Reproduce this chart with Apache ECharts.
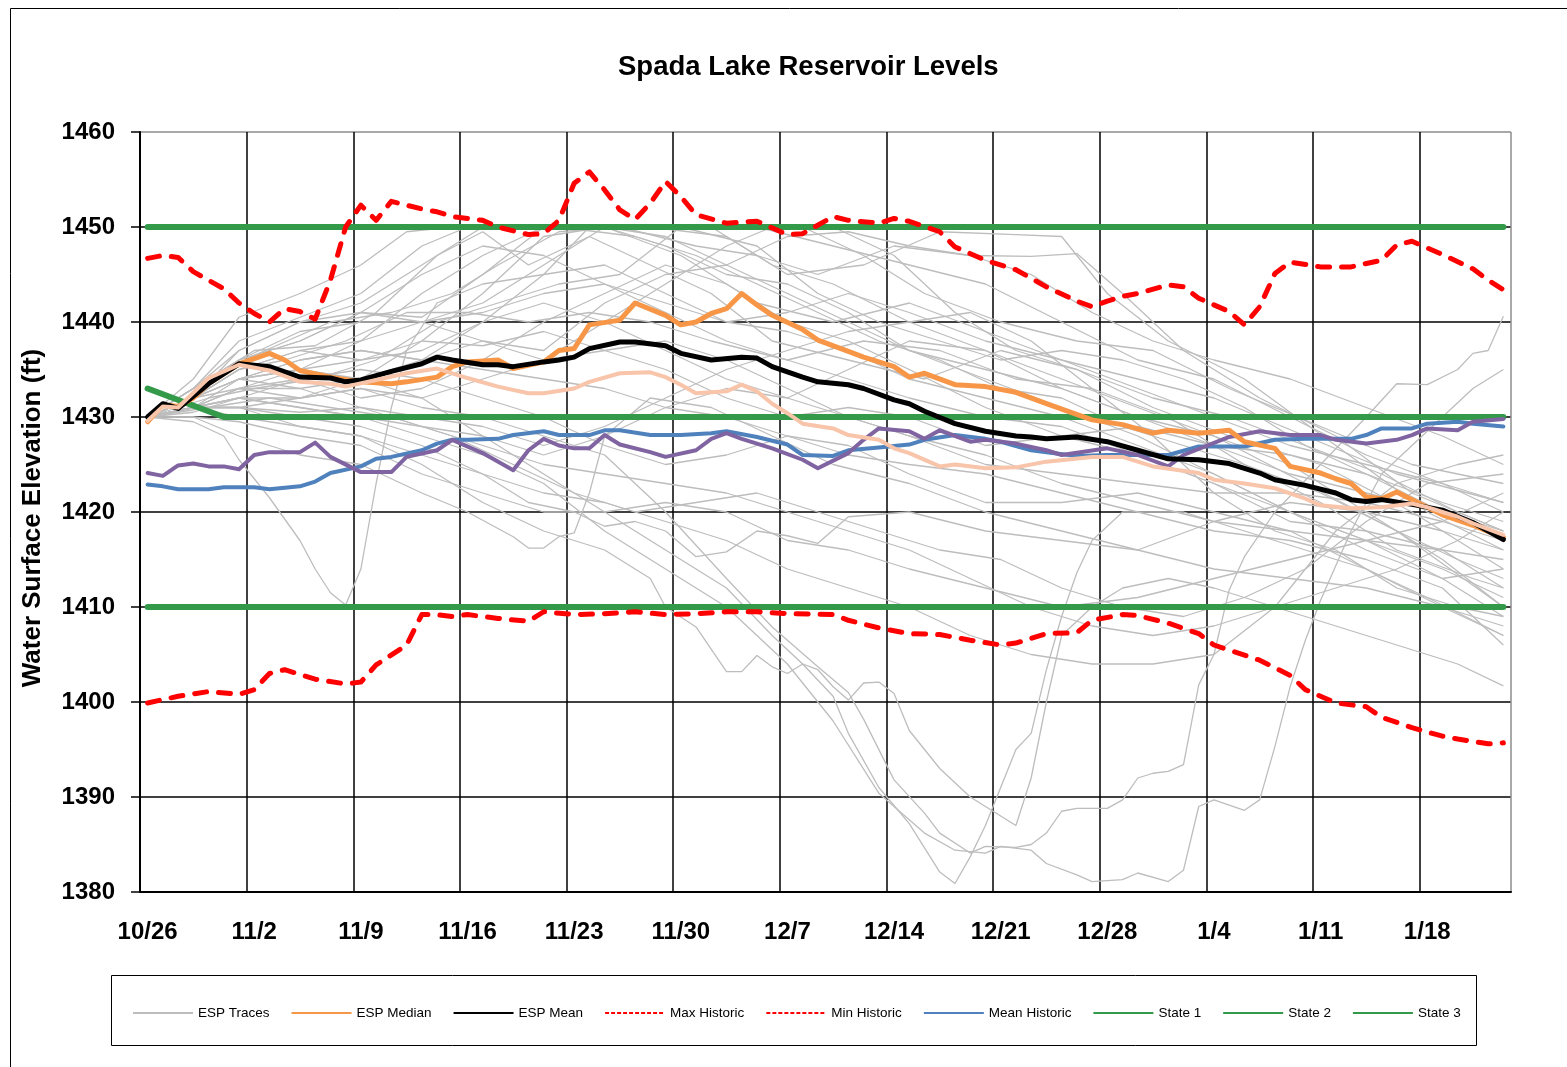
<!DOCTYPE html>
<html>
<head>
<meta charset="utf-8">
<title>Spada Lake Reservoir Levels</title>
<script src="https://cdn.jsdelivr.net/npm/echarts@6/dist/echarts.min.js"></script>
<style>
  html, body { margin: 0; padding: 0; background: #fff; }
  #chart { width: 1567px; height: 1067px; }
</style>
</head>
<body>
<div id="chart"></div>
<script>
// categories: one per day, 10/26 .. 1/23
const monthLen = { 10: 31, 11: 30, 12: 31, 1: 31 }
const dates = []
let mm = 10, dd = 26
for (let i = 0; i < 90; i++) {
  dates.push(mm + "/" + dd)
  dd++
  if (dd > monthLen[mm]) { dd = 1; mm = mm === 12 ? 1 : mm + 1 }
}

const yTicks = { min: 1380, max: 1460, step: 10 }

// [day index, elevation ft]
const espMedian = [[0,1429.5],[1,1431.3],[2,1431.1],[3,1432],[4,1433.5],[6,1435.6],[8,1436.7],[9,1436],[10,1434.9],[12,1434.2],[14,1433.7],[16,1433.5],[17,1433.7],[19,1434.2],[20,1435.3],[21,1435.8],[23,1436],[24,1435.1],[26,1435.8],[27,1437],[28,1437.2],[29,1439.7],[31,1440.2],[32,1442],[34,1440.7],[35,1439.7],[36,1440],[37,1440.9],[38,1441.4],[39,1443],[40,1441.8],[41,1440.7],[43,1439.2],[44,1438.1],[46,1436.9],[47,1436.3],[49,1435.3],[50,1434.2],[51,1434.6],[53,1433.4],[55,1433.2],[57,1432.6],[59,1431.4],[62,1429.7],[64,1429.2],[66,1428.3],[67,1428.6],[69,1428.3],[71,1428.6],[72,1427.4],[74,1426.7],[75,1424.8],[77,1424.1],[78,1423.5],[79,1423],[80,1421.6],[81,1421.4],[82,1422.1],[83,1421.3],[85,1419.7],[87,1418.6],[89,1417.3]]

const espMean = [[0,1430],[1,1431.4],[2,1430.9],[4,1433.5],[6,1435.6],[8,1435.3],[10,1434.2],[12,1434.1],[13,1433.7],[14,1433.9],[16,1434.8],[18,1435.6],[19,1436.3],[20,1436],[22,1435.5],[23,1435.5],[24,1435.3],[26,1435.8],[27,1436],[28,1436.3],[29,1437.2],[31,1437.9],[32,1437.9],[34,1437.5],[35,1436.7],[37,1436],[39,1436.3],[40,1436.2],[41,1435.3],[43,1434.2],[44,1433.7],[46,1433.4],[47,1433],[49,1431.8],[50,1431.4],[51,1430.6],[53,1429.3],[55,1428.5],[57,1428],[58,1427.9],[59,1427.7],[61,1427.9],[63,1427.4],[65,1426.5],[67,1425.6],[69,1425.5],[71,1425.1],[73,1424.1],[74,1423.4],[76,1422.8],[78,1422],[79,1421.3],[80,1421.1],[81,1421.3],[83,1420.8],[85,1420.2],[87,1418.9],[89,1417.1]]

const maxHistoric = [[0,1446.7],[1,1447],[2,1446.8],[3,1445.3],[5,1443.5],[6,1442],[7,1440.9],[8,1440],[9,1441.4],[10,1441.1],[11,1440.3],[12,1444.4],[13,1450],[14,1452.3],[15,1450.7],[16,1452.7],[18,1451.9],[19,1451.6],[20,1451.1],[22,1450.7],[23,1450],[25,1449.2],[26,1449.3],[27,1450.7],[28,1454.6],[29,1455.8],[30,1453.9],[31,1451.8],[32,1450.8],[33,1452.5],[34,1454.8],[35,1453.2],[36,1451.3],[38,1450.4],[40,1450.6],[42,1449.2],[43,1449.3],[45,1451.1],[46,1450.7],[48,1450.4],[49,1450.9],[50,1450.6],[52,1449.5],[53,1447.9],[55,1446.5],[57,1445.5],[58,1444.6],[59,1443.7],[61,1442.2],[62,1441.6],[63,1442.2],[64,1442.7],[65,1443],[67,1443.9],[68,1443.7],[69,1442.5],[71,1441.1],[72,1439.7],[73,1441.6],[74,1445.1],[75,1446.3],[77,1445.8],[79,1445.8],[81,1446.5],[82,1448.1],[83,1448.5],[85,1447.1],[87,1445.6],[88,1444.4],[89,1443.4]]

const minHistoric = [[0,1399.9],[2,1400.6],[4,1401.1],[6,1400.8],[7,1401.3],[8,1403],[9,1403.4],[11,1402.4],[13,1401.9],[14,1402.1],[15,1403.9],[17,1406],[18,1409.2],[19,1409.2],[20,1409],[21,1409.2],[23,1408.8],[25,1408.5],[26,1409.5],[28,1409.2],[30,1409.3],[32,1409.5],[34,1409.2],[36,1409.3],[38,1409.5],[40,1409.5],[42,1409.3],[45,1409.2],[46,1408.6],[48,1407.8],[50,1407.2],[52,1407.1],[54,1406.5],[56,1406],[57,1406.2],[59,1407.2],[61,1407.3],[62,1408.6],[64,1409.2],[65,1409.1],[67,1408.3],[69,1407.2],[70,1406],[73,1404.4],[75,1402.8],[76,1401.3],[78,1399.9],[80,1399.5],[81,1398.4],[83,1397.3],[85,1396.4],[86,1396.1],[88,1395.6],[89,1395.7]]

const meanHistoric = [[0,1422.9],[1,1422.7],[2,1422.4],[4,1422.4],[5,1422.6],[7,1422.6],[8,1422.4],[10,1422.7],[11,1423.2],[12,1424.1],[14,1424.8],[15,1425.6],[16,1425.8],[18,1426.5],[19,1427.2],[20,1427.6],[21,1427.6],[23,1427.7],[24,1428.1],[26,1428.5],[27,1428.1],[29,1428.1],[30,1428.6],[31,1428.6],[33,1428.1],[35,1428.1],[37,1428.3],[38,1428.5],[40,1427.9],[42,1427.1],[43,1426],[45,1425.9],[46,1426.5],[48,1426.8],[50,1427.1],[51,1427.6],[53,1428.1],[55,1427.7],[56,1427.4],[58,1426.5],[59,1426.3],[61,1425.9],[63,1426],[65,1426],[67,1426],[69,1426.9],[72,1426.9],[74,1427.6],[76,1427.7],[79,1427.7],[80,1428.1],[81,1428.8],[83,1428.8],[84,1429.3],[86,1429.5],[87,1429.3],[89,1429]]

// two unlabeled lines (no legend entry in the original)
const purpleLine = [[0,1424.1],[1,1423.8],[2,1424.9],[3,1425.1],[4,1424.8],[5,1424.8],[6,1424.5],[7,1426],[8,1426.3],[10,1426.3],[11,1427.3],[12,1425.8],[14,1424.2],[16,1424.2],[17,1425.8],[19,1426.5],[20,1427.6],[22,1426.2],[24,1424.4],[25,1426.5],[26,1427.7],[27,1427],[28,1426.7],[29,1426.7],[30,1428.1],[31,1427.1],[33,1426.3],[34,1425.8],[36,1426.5],[37,1427.7],[38,1428.3],[39,1427.7],[41,1426.7],[43,1425.5],[44,1424.6],[46,1426.2],[47,1427.6],[48,1428.8],[50,1428.5],[51,1427.7],[52,1428.6],[54,1427.4],[55,1427.6],[57,1427.2],[59,1426.5],[60,1426],[63,1426.7],[65,1426],[67,1424.8],[68,1426],[71,1427.9],[73,1428.5],[75,1428.1],[77,1428.1],[78,1427.6],[80,1427.2],[82,1427.6],[83,1428.1],[84,1428.8],[86,1428.6],[87,1429.5],[89,1429.8]]

const peachLine = [[0,1429.6],[1,1431.1],[2,1431],[4,1434.1],[6,1435.5],[8,1434.9],[10,1433.7],[12,1433.5],[13,1433.2],[15,1433.9],[17,1434.6],[19,1435.1],[21,1434.1],[23,1433.2],[25,1432.5],[26,1432.5],[28,1433],[29,1433.7],[31,1434.6],[33,1434.7],[34,1434.2],[35,1433.4],[36,1432.5],[38,1432.7],[39,1433.4],[40,1432.7],[41,1431.4],[42,1430.4],[43,1429.3],[45,1428.8],[46,1428.1],[48,1427.6],[49,1426.7],[50,1426.2],[52,1424.8],[53,1425],[55,1424.6],[57,1424.7],[59,1425.3],[62,1425.8],[64,1425.8],[66,1424.8],[69,1424.1],[70,1423.4],[72,1423],[74,1422.5],[76,1421.4],[77,1420.7],[79,1420.4],[81,1420.5],[83,1420.9],[84,1420.5],[86,1419.5],[87,1418.8],[89,1417.6]]

const state1 = [[0,1433],[5,1430],[89,1430]]
const state2 = [[0,1450],[89,1450]]
const state3 = [[0,1410],[89,1410]]

// ESP traces
const espTraces = [
  [[0,1430],[3,1434],[6,1440.5],[10,1443],[14,1446],[17,1449.5],[20,1450],[27,1450],[34,1450],[40,1450],[45,1448],[50,1446],[55,1444],[60,1440],[65,1436],[70,1434],[75,1430],[80,1426],[85,1423],[89,1420]],
  [[0,1430],[3,1433],[6,1438],[10,1440.5],[14,1443],[18,1448],[21,1450],[27,1450],[33,1450],[38,1449],[42,1445],[47,1446],[52,1449.5],[57,1449.2],[60,1449],[63,1443],[67,1438],[72,1434],[78,1427],[84,1420],[89,1416]],
  [[0,1430],[4,1434],[7,1436.5],[12,1440],[16,1441],[20,1443],[23,1446],[27,1449.5],[31,1450],[36,1448],[40,1447],[44,1445],[49,1448],[54,1447],[58,1446.9],[61,1447.2],[64,1443],[68,1437],[73,1432],[78,1428],[83,1422],[89,1418]],
  [[0,1430],[3,1432],[6,1436],[10,1438],[14,1441],[18,1440.5],[22,1445],[26,1450],[30,1450],[35,1447],[40,1442],[45,1440],[50,1442],[55,1439],[60,1436],[65,1434],[70,1432],[76,1428],[82,1424],[89,1421]],
  [[0,1430],[3,1433],[7,1437],[11,1437.5],[15,1441],[19,1447],[22,1449.5],[25,1446],[29,1449],[33,1446],[37,1443],[41,1438],[46,1436],[51,1434],[56,1437],[61,1435],[66,1431],[71,1428],[77,1425],[83,1420],[89,1414]],
  [[0,1430],[3,1432],[6,1434],[10,1436],[14,1437],[18,1436],[22,1440],[26,1445],[29,1450],[33,1450],[37,1450],[41,1446],[45,1444],[50,1440],[55,1437],[60,1434],[65,1431],[70,1428],[76,1423],[82,1418],[89,1410]],
  [[0,1430],[4,1432],[7,1433],[11,1434],[15,1436],[19,1440],[23,1442],[27,1444],[31,1445],[35,1450],[39,1450],[43,1450],[47,1447],[51,1443],[56,1440],[61,1438],[66,1437],[71,1433],[77,1429],[83,1425],[89,1423]],
  [[0,1430],[3,1431],[6,1433],[10,1433],[14,1434],[18,1436],[22,1438],[26,1437],[30,1442],[34,1445],[38,1446],[42,1449],[46,1449.5],[50,1448],[54,1447],[58,1445],[62,1441],[66,1438],[70,1436],[75,1434],[80,1431],[85,1428],[89,1425]],
  [[0,1430],[3,1432],[6,1435],[9,1436],[13,1438],[17,1441],[21,1441],[25,1440],[29,1441],[33,1440],[37,1438],[42,1436],[47,1438],[52,1437],[57,1434],[62,1433],[67,1430],[72,1425],[77,1421],[82,1416],[87,1413],[89,1412]],
  [[0,1430],[3,1431],[6,1433],[10,1435],[14,1436],[18,1438],[22,1437.5],[26,1439],[30,1437],[34,1435],[38,1432],[42,1430],[46,1431],[50,1430],[55,1427],[60,1428],[65,1429],[70,1427],[75,1426],[80,1424],[85,1421],[89,1419]],
  [[0,1430],[3,1430.5],[6,1432],[10,1432],[14,1433],[18,1432],[22,1434],[26,1436],[30,1440],[34,1444],[38,1448],[41,1450],[45,1450],[49,1447],[53,1441],[57,1437],[61,1435],[66,1432],[71,1430],[76,1427],[81,1424],[86,1420],[89,1418]],
  [[0,1430],[3,1431],[6,1431],[10,1430.5],[14,1431],[18,1429],[22,1428],[26,1426],[30,1428],[34,1431],[38,1433],[42,1432],[46,1430],[50,1428],[55,1426],[60,1423],[65,1421],[70,1419],[75,1418],[80,1417],[85,1416],[89,1415]],
  [[0,1430],[3,1430],[6,1429.5],[10,1428],[14,1427],[18,1424],[22,1422],[26,1420],[30,1420],[34,1421],[38,1420],[42,1417],[46,1416],[50,1414],[55,1412],[60,1410],[65,1411],[70,1413],[75,1415],[80,1417],[85,1419],[89,1422]],
  [[0,1430],[3,1429.5],[5,1428],[6,1425.5],[8,1421.5],[10,1417],[11,1414],[12,1411.5],[13,1410.2],[14,1414],[15,1423],[16,1431],[17,1437],[19,1442],[22,1444],[26,1445],[30,1446],[34,1443],[38,1440],[42,1439],[46,1437],[50,1434],[55,1432],[60,1430],[65,1427],[70,1424],[75,1420],[80,1417],[85,1413],[89,1409]],
  [[0,1430],[3,1433],[6,1437],[10,1440],[14,1442],[18,1446],[22,1450],[27,1450],[32,1449],[36,1447],[40,1444],[44,1441],[48,1438],[52,1436],[56,1433],[60,1432],[64,1429],[68,1427],[72,1425],[77,1422],[82,1418],[86,1415],[89,1413]],
  [[0,1430],[3,1432],[6,1434],[10,1435],[14,1434],[18,1432],[22,1428],[26,1424],[30,1420],[34,1416],[38,1412],[41,1407],[43,1404],[45,1400.6],[46,1396.7],[48,1391],[50,1387.2],[52,1382.1],[53,1380.9],[54,1383.7],[55,1387],[57,1395],[58,1396.7],[59,1403.4],[60,1409],[61,1413.6],[62,1417],[64,1420],[68,1420],[72,1418],[76,1416],[80,1414],[84,1411],[89,1407]],
  [[0,1430],[3,1431],[6,1432],[10,1431],[14,1430],[18,1428],[22,1426],[26,1423],[30,1418],[34,1414],[38,1410],[42,1404],[45,1398],[48,1390.4],[51,1386.2],[53,1384.4],[55,1384.1],[56,1384.8],[58,1384.4],[59,1383],[61,1381.8],[62,1381.1],[64,1381.3],[65,1382],[67,1381.1],[68,1382.3],[69,1389],[70,1389.7],[72,1388.6],[73,1389.7],[74,1395.3],[75,1401.6],[76,1406.5],[77,1410.7],[79,1418],[81,1424],[83,1427],[85,1430],[87,1433],[89,1435]],
  [[0,1430],[3,1432],[6,1433],[10,1432],[14,1433],[18,1431],[22,1430],[26,1428],[30,1426],[34,1420],[38,1413],[41,1407.9],[44,1403.7],[46,1401],[47,1398.2],[49,1391.8],[51,1388.3],[52,1386.2],[54,1384.1],[55,1384.8],[57,1384.7],[58,1385],[59,1386.2],[60,1388.5],[61,1388.8],[63,1388.8],[64,1389.7],[65,1392],[66,1392.5],[67,1392.7],[68,1393.4],[69,1401.8],[70,1405],[71,1411.8],[72,1415.3],[74,1420],[77,1425],[80,1430],[82,1433.5],[84,1433.4],[86,1435],[87,1436.7],[88,1437],[89,1440.6]],
  [[0,1430],[3,1431],[6,1431],[10,1429],[14,1428],[18,1425],[22,1421],[26,1418],[30,1416],[33,1413],[34,1410],[36,1407.9],[38,1403.2],[39,1403.2],[40,1404.9],[41,1403.7],[42,1403],[43,1404],[44,1403.4],[45,1401.6],[46,1400.2],[47,1402],[48,1402.1],[49,1400.9],[50,1397],[52,1393],[54,1390],[56,1388],[57,1387],[58,1392],[59,1400],[60,1407],[62,1410],[64,1412],[67,1413],[70,1412],[74,1410],[78,1408],[82,1406],[86,1404],[89,1401.7]],
  [[0,1430],[3,1431],[6,1430],[10,1429],[14,1428],[18,1426],[22,1424],[25,1421],[28,1420],[30,1418.5],[32,1419],[34,1418],[36,1415.3],[38,1415.8],[40,1418],[42,1417.5],[44,1416.7],[46,1419.5],[50,1420],[55,1418],[60,1417],[65,1416],[70,1414],[75,1413],[80,1412],[85,1410],[89,1408]],
  [[0,1430],[3,1430],[6,1428],[10,1426],[14,1425],[18,1422],[21,1420],[24,1417.4],[25,1416.2],[26,1416.2],[27,1417.4],[28,1417.8],[29,1422],[30,1428],[33,1432],[37,1431],[41,1428],[45,1425],[50,1423],[55,1420],[60,1418],[65,1416],[70,1419],[75,1421],[80,1420],[85,1418],[89,1416]],
  [[0,1430],[3,1431],[6,1432],[10,1431],[14,1430],[18,1429],[22,1427],[26,1425],[30,1424],[34,1423],[38,1422],[42,1420],[46,1418],[50,1416],[54,1413],[58,1410],[62,1408],[66,1407],[70,1408],[74,1410],[78,1412],[82,1414],[86,1417],[89,1420]],
  [[0,1430],[4,1431],[8,1432],[12,1431],[16,1430],[20,1428],[24,1425],[28,1422],[32,1420],[36,1421],[40,1422],[44,1420],[48,1418],[52,1416],[56,1415],[60,1412],[64,1410],[68,1409],[72,1411],[76,1414],[80,1419],[84,1423],[89,1424]],
  [[0,1430],[3,1432],[6,1435],[10,1437],[14,1438],[18,1440],[22,1441],[26,1443],[30,1444],[34,1441],[38,1438],[42,1436],[46,1434],[50,1432],[55,1430],[60,1429],[65,1426],[70,1423],[75,1420],[80,1417],[85,1414],[89,1411]],
  [[0,1430],[3,1433],[6,1436],[10,1439],[14,1440],[18,1440],[22,1438],[26,1436],[30,1437],[34,1438],[38,1436],[42,1433],[46,1430],[50,1428],[55,1425],[60,1424],[65,1423],[70,1422],[75,1422],[80,1421],[85,1419],[89,1417]],
  [[0,1430],[3,1432],[6,1434],[10,1435],[14,1438],[18,1443],[22,1447],[26,1450],[30,1450],[34,1449],[38,1446],[42,1443],[46,1440],[50,1437],[55,1435],[60,1433],[65,1430],[70,1428],[75,1425],[80,1420],[85,1415],[89,1410]],
  [[0,1430],[3,1431],[6,1434],[10,1436],[14,1437],[18,1436],[22,1435],[26,1434],[30,1433],[34,1431],[38,1430],[42,1428],[46,1426],[50,1425],[55,1424],[60,1422],[65,1420],[70,1418],[75,1417],[80,1415],[85,1412],[89,1406]],
  [[0,1430],[3,1431],[6,1433],[10,1434],[14,1432],[18,1433],[22,1436],[26,1440],[30,1443],[34,1446],[38,1444],[42,1440],[46,1438],[50,1435],[55,1431],[60,1428],[65,1426],[70,1423],[75,1419],[80,1418],[85,1416],[89,1412]],
  [[0,1430],[3,1432],[6,1437],[10,1440],[14,1441],[18,1440],[22,1442],[26,1446],[30,1450],[35,1450],[40,1448],[44,1443],[48,1440],[52,1438],[56,1436],[60,1437],[64,1436],[68,1434],[72,1431],[76,1427],[80,1424],[85,1420],[89,1417]],
  [[0,1430],[3,1431],[6,1432],[10,1434],[14,1435],[18,1434],[22,1432],[26,1430],[30,1427],[34,1425],[38,1426],[42,1428],[46,1427],[50,1424],[55,1421],[60,1421],[65,1422],[70,1420],[75,1418],[80,1414],[85,1410],[89,1407]],
  [[0,1430],[3,1432],[6,1435],[10,1437],[14,1436],[18,1437],[22,1440],[26,1442],[30,1440],[34,1437],[38,1434],[42,1432],[46,1435],[50,1438],[55,1437],[60,1433],[65,1430],[70,1427],[75,1424],[80,1422],[85,1420],[89,1418]],
  [[0,1430],[3,1433],[6,1436],[10,1438],[14,1441],[18,1445],[22,1448],[26,1447],[30,1444],[34,1442],[38,1440],[42,1441],[46,1443],[50,1441],[55,1438],[60,1436],[65,1433],[70,1430],[75,1427],[80,1425],[85,1423],[89,1421]],
  [[0,1430],[3,1431],[6,1431],[10,1432],[14,1434],[18,1438],[22,1443],[26,1449],[30,1450],[34,1448],[38,1445],[42,1444],[46,1441],[50,1437],[55,1434],[60,1431],[65,1428],[70,1424],[75,1420],[80,1416],[85,1413],[89,1414]],
  [[0,1430],[3,1431],[6,1431],[10,1430],[14,1429],[18,1427],[22,1424],[26,1422],[30,1421],[34,1419],[38,1417],[42,1414],[46,1412],[50,1410],[54,1407],[58,1405],[62,1404],[66,1404],[70,1405],[74,1410],[78,1418],[82,1423],[86,1425],[89,1426]],
  [[0,1430],[3,1432],[6,1434],[10,1433],[14,1431],[18,1430],[22,1429],[26,1427],[30,1429],[34,1432],[38,1435],[42,1437],[46,1439],[50,1440],[54,1441],[58,1438],[62,1433],[66,1428],[70,1422],[74,1418],[78,1416],[82,1412],[86,1410],[89,1409]]
]

const font = "Arial, 'Liberation Sans', sans-serif"

const chart = echarts.init(document.getElementById("chart"))

let series = []
espTraces.forEach(tr => {
  series.push({
    name: "ESP Traces", type: "line", data: tr, symbol: "none", silent: true,
    lineStyle: { color: "#bdbdbd", width: 1.3 }, itemStyle: { color: "#bdbdbd" }
  })
})

function line(name, data, color, width, type) {
  return {
    name: name, type: "line", data: data, symbol: "none", silent: true,
    lineStyle: { color: color, width: width, type: type || "solid", cap: "round", join: "round" },
    itemStyle: { color: color }
  }
}

series.push(line("State 1", state1, "#339a4a", 6))
series.push(line("State 2", state2, "#339a4a", 6))
series.push(line("State 3", state3, "#339a4a", 6))
series.push(line("Max Historic", maxHistoric, "#ff0000", 5, [12, 12]))
series.push(line("Min Historic", minHistoric, "#ff0000", 5, [12, 12]))
series.push(line("Mean Historic", meanHistoric, "#4f81bd", 4))
series.push(line("Purple", purpleLine, "#8064a2", 4))
series.push(line("ESP Median", espMedian, "#f79646", 5))
series.push(line("ESP Mean", espMean, "#000000", 5))
series.push(line("Peach", peachLine, "#f8c4aa", 4))

const xSplitColors = []
for (let i = 0; i < 13; i++) xSplitColors.push("#000")
xSplitColors.push("#8c8c8c")
const ySplitColors = ["#000", "#000", "#000", "#000", "#000", "#000", "#000", "#000", "#8c8c8c"]

const thin = { width: 2, cap: "butt" }
const dash = { width: 2, cap: "butt", type: [4, 2] }

let option = {
  animation: false,
  backgroundColor: "#fff",
  title: {
    text: "Spada Lake Reservoir Levels",
    left: 618, top: 53, padding: 0,
    textStyle: { fontFamily: font, fontSize: 27.5, fontWeight: "bold", color: "#000" }
  },
  legend: {
    left: 127, top: 1001, itemWidth: 60, itemHeight: 14, itemGap: 21,
    selectedMode: false,
    itemStyle: { opacity: 0 },
    textStyle: { fontFamily: font, fontSize: 13.5, color: "#000" },
    data: [
      { name: "ESP Traces", lineStyle: thin },
      { name: "ESP Median", lineStyle: thin },
      { name: "ESP Mean", lineStyle: thin },
      { name: "Max Historic", lineStyle: dash },
      { name: "Min Historic", lineStyle: dash },
      { name: "Mean Historic", lineStyle: thin },
      { name: "State 1", lineStyle: thin },
      { name: "State 2", lineStyle: thin },
      { name: "State 3", lineStyle: thin }
    ]
  },
  graphic: [
    { type: "rect", shape: { x: 10.5, y: 8.5, width: 1600, height: 1100 }, style: { fill: "none", stroke: "#000", lineWidth: 1 }, silent: true },
    { type: "rect", shape: { x: 111.5, y: 975.5, width: 1365, height: 70 }, style: { fill: "none", stroke: "#000", lineWidth: 1 }, silent: true }
  ],
  grid: { left: 140, top: 132, right: 56, bottom: 175, containLabel: false },
  xAxis: {
    type: "category",
    data: dates,
    boundaryGap: true,
    axisLine: { lineStyle: { color: "#000", width: 2 } },
    axisTick: { interval: 6, alignWithLabel: false, length: 8, lineStyle: { color: "#000", width: 1.5 } },
    axisLabel: { interval: 6, margin: 28, fontFamily: font, fontSize: 24, fontWeight: "bold", color: "#000" },
    splitLine: { show: true, interval: 6, lineStyle: { color: xSplitColors, width: 1.5 } }
  },
  yAxis: {
    type: "value",
    min: yTicks.min, max: yTicks.max, interval: yTicks.step,
    name: "Water Surface Elevation (ft)",
    nameLocation: "middle", nameGap: 94,
    nameTextStyle: { fontFamily: font, fontSize: 26, fontWeight: "bold", color: "#000", padding: [0, 12, 0, 0] },
    axisLine: { show: true, lineStyle: { color: "#000", width: 2 } },
    axisTick: { show: true, length: 9, lineStyle: { color: "#000", width: 1.5 } },
    axisLabel: { margin: 25, fontFamily: font, fontSize: 24, fontWeight: "bold", color: "#000", formatter: v => String(v) },
    splitLine: { show: true, lineStyle: { color: ySplitColors, width: 1.5 } }
  },
  series: series
}

chart.setOption(option)

window.onresize = () => {
  chart.resize()
}
</script>
</body>
</html>
